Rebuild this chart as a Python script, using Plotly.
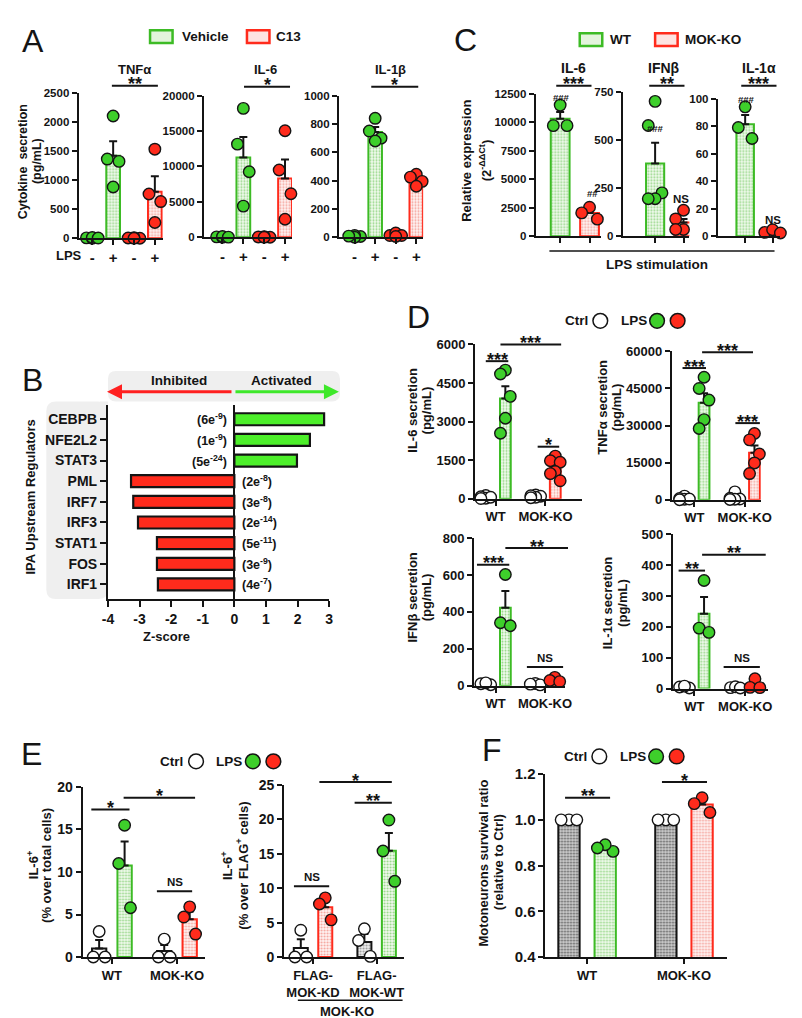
import numpy as np
import plotly.graph_objects as go

W, H = 802, 1018
FONT = 'Liberation Sans, Arial, sans-serif'
INK = '#141414'
GREEN = '#3ecf2b'
RED = '#ff2b1c'
LIME = '#4def2a'

# ---------------- data ----------------
# A: cytokine secretion (pg/mL), Vehicle vs C13, without / with LPS
a_lps = ['-', '+', '-', '+']
tnf_vehicle_ctrl = [6, 0, 12, 3]
tnf_vehicle_lps = [2100, 1360, 1320, 880]
tnf_c13_ctrl = [0, 10, 4, 0]
tnf_c13_lps = [1530, 760, 630, 270]
il6_vehicle_ctrl = [60, 0, 110, 20]
il6_vehicle_lps = [18200, 13150, 9250, 4400]
il6_c13_ctrl = [0, 90, 40, 0]
il6_c13_lps = [15050, 9500, 6150, 2550]
il1b_vehicle_ctrl = [5, 12, 0, 8]
il1b_vehicle_lps = [840, 750, 700, 680]
il1b_c13_ctrl = [12, 30, 12, 5]
il1b_c13_lps = [445, 425, 395, 360]
a_tnf_ticks = [0, 500, 1000, 1500, 2000, 2500]
a_il6_ticks = [0, 5000, 10000, 15000, 20000]
a_il1b_ticks = [0, 200, 400, 600, 800, 1000]

# C: relative expression (2^-ddCt) after LPS stimulation
c_il6_wt = [11500, 9700, 9700]
c_il6_ko = [2550, 2050, 1500]
c_ifnb_wt = [700, 575, 225, 195, 195]
c_ifnb_ko = [135, 90, 60, 35, 35]
c_il1a_wt = [94, 79, 71]
c_il1a_ko = [2.8, 4.7, 2.4]
c_il6_ticks = [0, 2500, 5000, 7500, 10000, 12500]
c_ifnb_ticks = [0, 250, 500, 750]
c_il1a_ticks = [0, 20, 40, 60, 80, 100]

# B: IPA upstream regulators
ipa_regulators = ['CEBPB', 'NFE2L2', 'STAT3', 'PML', 'IRF7', 'IRF3', 'STAT1', 'FOS', 'IRF1']
ipa_zscore = [2.84, 2.39, 1.98, -3.27, -3.20, -3.05, -2.45, -2.45, -2.42]
ipa_p_base = [6, 1, 5, 2, 3, 2, 5, 3, 4]
ipa_p_exp = [-9, -9, -24, -8, -8, -14, -11, -9, -7]
z_ticks = [-4, -3, -2, -1, 0, 1, 2, 3]

# D: secretion (pg/mL), Ctrl / LPS in WT and MOK-KO
genotypes = ['WT', 'MOK-KO']
d_il6_wt_ctrl = [130, 80, 20, 60, 10]
d_il6_wt_lps = [5000, 4850, 3980, 3130, 2550]
d_il6_ko_ctrl = [150, 100, 60, 120, 40]
d_il6_ko_lps = [1660, 1480, 1420, 1060, 980, 700]
d_tnf_wt_ctrl = [1500, 500, 200, 300, 0]
d_tnf_wt_lps = [49500, 45000, 40300, 32400, 28800]
d_tnf_ko_ctrl = [3200, 600, 300, 200, 100]
d_tnf_ko_lps = [26800, 24200, 18500, 14900, 10600]
d_ifnb_wt_ctrl = [10, 5, 15]
d_ifnb_wt_lps = [603, 341, 325]
d_ifnb_ko_ctrl = [12, 4, 8]
d_ifnb_ko_lps = [45, 28, 22]
d_il1a_wt_ctrl = [5, 2, 8]
d_il1a_wt_lps = [350, 196, 182]
d_il1a_ko_ctrl = [3, 6, 2]
d_il1a_ko_lps = [32, 4, 3]
d_il6_ticks = [0, 1500, 3000, 4500, 6000]
d_tnf_ticks = [0, 15000, 30000, 45000, 60000]
d_ifnb_ticks = [0, 200, 400, 600, 800]
d_il1a_ticks = [0, 100, 200, 300, 400, 500]

# E: IL-6+ cells (%)
e_wt_ctrl = [3.0, 0.0, 0.0]
e_wt_lps = [15.5, 11.0, 5.8]
e_ko_ctrl = [2.1, 0.0, 0.0]
e_ko_lps = [5.9, 4.7, 2.7]
flag_groups = ['FLAG-<br>MOK-KD', 'FLAG-<br>MOK-WT']
e_kd_ctrl = [3.9, 0.0, 0.0]
e_kd_lps = [8.6, 7.7, 5.4]
e_flagwt_ctrl = [4.1, 2.4, 0.1]
e_flagwt_lps = [19.9, 15.4, 11.0]
e_total_ticks = [0, 5, 10, 15, 20]
e_flag_ticks = [0, 5, 10, 15, 20, 25]

# F: motoneuron survival ratio (relative to Ctrl)
f_wt_ctrl = [1.0, 1.0, 1.0]
f_wt_lps = [0.862, 0.891, 0.877]
f_ko_ctrl = [1.0, 1.0, 1.0]
f_ko_lps = [1.097, 1.032, 1.071]
f_ticks = [0.4, 0.6, 0.8, 1.0, 1.2]

# ---------------- helpers ----------------
fig = go.Figure()
LAY, ANN, SHP = {}, [], []
ZIGZAG = [0, -1, 1, 0, -1, 1]


def fx(x):
    return x / W


def fy(y):
    return 1 - y / H


def axes(n, l, r, t, b, xr, yr, yticks, fmt='d', ysize=12, xticks=None, xlabels=None, xsize=13):
    key = '' if n == 1 else str(n)
    common = dict(showline=True, linecolor=INK, linewidth=2, ticks='outside', tickcolor=INK,
                  tickwidth=2, ticklen=5, showgrid=False, zeroline=False, fixedrange=True)
    LAY['xaxis' + key] = dict(domain=[fx(l), fx(r)], range=xr, anchor='y' + key,
                              tickmode='array', tickvals=xticks or [], ticktext=xlabels,
                              tickfont=dict(family=FONT, size=xsize, color=INK, weight=700), **common)
    LAY['yaxis' + key] = dict(domain=[fy(b), fy(t)], range=yr, anchor='x' + key,
                              tickmode='array', tickvals=yticks, tickformat=fmt,
                              tickfont=dict(family=FONT, size=ysize, color=INK, weight=700), **common)
    return 'x' + key, 'y' + key


def patt(bg, fg, line):
    return dict(color=bg, line=dict(color=line, width=2),
                pattern=dict(shape='.', bgcolor=bg, fgcolor=fg, size=3, solidity=0.35, fillmode='replace'))


GREEN_BAR = patt('#f3fbf0', '#93d684', '#3dbb25')
RED_BAR = patt('#fff4f3', '#f5a199', RED)
GRAY_BAR = patt('#d0d0d0', '#5a5a5a', INK)
LGRAY_BAR = patt('#eeeeee', '#9a9a9a', INK)
WHITE_BAR = dict(color='white', line=dict(color=INK, width=2))


def group(ax, pos, pts, bar, dot, width, jit):
    pts = np.asarray(pts, float)
    mean = pts.mean()
    se = pts.std(ddof=1) / np.sqrt(len(pts))
    fig.add_trace(go.Bar(x=[pos], y=[mean], width=width, marker=bar, xaxis=ax[0], yaxis=ax[1],
                         error_y=dict(type='data', symmetric=False, array=[se], arrayminus=[0],
                                      color=INK, thickness=2, width=4)))
    # spread the dots GraphPad-style: highest in the middle, the others alternating sides
    order = np.argsort(-pts, kind='stable')
    off = np.zeros(len(pts))
    for k, idx in enumerate(order):
        off[idx] = ZIGZAG[k % len(ZIGZAG)] * jit
    fig.add_trace(go.Scatter(x=pos + off, y=pts, mode='markers', cliponaxis=False,
                             xaxis=ax[0], yaxis=ax[1],
                             marker=dict(size=11.5, color=dot, line=dict(color=INK, width=1.4))))


def text(x, y, s, size=13, angle=0, bold=True, anchor='center'):
    ANN.append(dict(x=fx(x), y=fy(y), xref='paper', yref='paper', text=s, showarrow=False,
                    textangle=angle, xanchor=anchor, yanchor='middle',
                    font=dict(family=FONT, size=size, color=INK, weight=700 if bold else 400)))


def hline(x0, x1, y, w=2):
    SHP.append(dict(type='line', xref='paper', yref='paper', x0=fx(x0), x1=fx(x1),
                    y0=fy(y), y1=fy(y), line=dict(color=INK, width=w)))


def sig(x0, x1, y, s):
    hline(x0, x1, y)
    if s == 'NS':
        text((x0 + x1) / 2, y - 9, s, 11.5)
    else:
        text((x0 + x1) / 2, y - 1.5, s, 18)


def box_key(x, y, fill, line):
    SHP.append(dict(type='rect', xref='paper', yref='paper', x0=fx(x), x1=fx(x + 23),
                    y0=fy(y + 6.5), y1=fy(y - 6.5), fillcolor=fill, line=dict(color=line, width=2.5)))


def dot_key(x, y, fill):
    SHP.append(dict(type='circle', xref='paper', yref='paper', x0=fx(x - 7.5), x1=fx(x + 7.5),
                    y0=fy(y + 7.5), y1=fy(y - 7.5), fillcolor=fill, line=dict(color=INK, width=1.5)))


def dots_legend(x, y):
    text(x - 11, y, 'Ctrl', 13.5, anchor='right')
    dot_key(x, y, 'white')
    text(x + 34, y, 'LPS', 13.5)
    dot_key(x + 58, y, GREEN)
    dot_key(x + 79, y, RED)


# ---------------- panel A ----------------
text(19, 24, 'A', 32, bold=False)
box_key(139, 20, '#e3f4dc', '#3dbb25')
text(170, 20, 'Vehicle', 13.5, anchor='left')
box_key(238, 20, '#fde4e2', RED)
text(266, 20, 'C13', 13.5, anchor='left')

a_sets = [
    (1, 66, 152, 77, 225, 80, 21.3, a_tnf_ticks, 'TNFα', 123,
     [tnf_vehicle_ctrl, tnf_vehicle_lps, tnf_c13_ctrl, tnf_c13_lps]),
    (2, 194, 284, 80, 224, 213, 21.3, a_il6_ticks, 'IL-6', 257,
     [il6_vehicle_ctrl, il6_vehicle_lps, il6_c13_ctrl, il6_c13_lps]),
    (3, 332, 418, 80, 224, 348, 21.0, a_il1b_ticks, 'IL-1β', 385,
     [il1b_vehicle_ctrl, il1b_vehicle_lps, il1b_c13_ctrl, il1b_c13_lps]),
]
for n, l, r, t, b, c0, dc, yt, title, tx, series in a_sets:
    ax = axes(n, l, r, t, b, [(l - c0) / dc, (r - c0) / dc], [0, yt[-1]], yt, ysize=11.5,
              xticks=[0, 1, 2, 3], xlabels=a_lps, xsize=15)
    for i, pts in enumerate(series):
        bar, dot = (GREEN_BAR, GREEN) if i < 2 else (RED_BAR, RED)
        group(ax, i, pts, bar, dot, 0.66, 6 / dc)
    text(tx, 53, title, 13)
sig(100, 147, 70, '**')
sig(235, 282, 71, '*')
sig(365, 413, 71, '*')
text(56, 243, 'LPS', 13)
text(9, 147, 'Cytokine  secretion', 12.5, angle=-90)
text(23, 147, '(pg/mL)', 12.5, angle=-90)

# ---------------- panel C ----------------
text(461, 23, 'C', 32, bold=False)
box_key(578, 23, '#e3f4dc', '#3dbb25')
text(607, 23, 'WT', 13.5, anchor='left')
box_key(655, 23, '#fde4e2', RED)
text(683, 23, 'MOK-KO', 13.5, anchor='left')

c_sets = [
    (4, 533, 600, 78, 223, 558, 30, c_il6_ticks, 'IL-6', 572, c_il6_wt, c_il6_ko),
    (5, 622, 690, 76, 223, 655, 29, c_ifnb_ticks, 'IFNβ', 664, c_ifnb_wt, c_ifnb_ko),
    (6, 719, 783, 83, 223, 747, 28, c_il1a_ticks, 'IL-1α', 761, c_il1a_wt, c_il1a_ko),
]
for n, l, r, t, b, c0, dc, yt, title, tx, wt, ko in c_sets:
    ax = axes(n, l, r, t, b, [(l - c0) / dc, (r - c0) / dc], [0, yt[-1]], yt, ysize=11.5,
              xticks=[0, 1], xlabels=['', ''])
    group(ax, 0, wt, GREEN_BAR, GREEN, 0.64, 7 / dc)
    group(ax, 1, ko, RED_BAR, RED, 0.64, 8 / dc)
    text(tx, 52, title, 14)
sig(554, 590, 70, '***')
sig(649, 685, 70, '**')
sig(743, 779, 70, '***')
text(559, 82, '###', 9.5)
text(591, 179, '##', 9.5)
text(655, 113, '###', 9.5)
text(681, 185, 'NS', 11.5)
text(748, 84, '###', 9.5)
text(775, 206, 'NS', 11.5)
text(462, 146, 'Relative expression', 13, angle=-90)
text(481, 146, '(2<sup>-ΔΔCt</sup>)', 13, angle=-90)
hline(547, 777, 238, 1.5)
text(657, 252, 'LPS stimulation', 13.5)

# ---------------- panel B ----------------
text(19, 369, 'B', 32, bold=False)


def rrect(x0, y0, x1, y1, r):
    p = (f'M{fx(x0 + r)},{fy(y0)} L{fx(x1 - r)},{fy(y0)} Q{fx(x1)},{fy(y0)} {fx(x1)},{fy(y0 + r)} '
         f'L{fx(x1)},{fy(y1 - r)} Q{fx(x1)},{fy(y1)} {fx(x1 - r)},{fy(y1)} '
         f'L{fx(x0 + r)},{fy(y1)} Q{fx(x0)},{fy(y1)} {fx(x0)},{fy(y1 - r)} '
         f'L{fx(x0)},{fy(y0 + r)} Q{fx(x0)},{fy(y0)} {fx(x0 + r)},{fy(y0)} Z')
    SHP.append(dict(type='path', xref='paper', yref='paper', path=p, fillcolor='#efefef',
                    line=dict(width=0), layer='below'))


rrect(96, 360, 333, 391, 8)
rrect(33, 391, 96, 592, 10)
SHP.append(dict(type='rect', xref='paper', yref='paper', x0=fx(88), x1=fx(96), y0=fy(391), y1=fy(400),
                fillcolor='#efefef', line=dict(width=0), layer='below'))

axB = axes(7, 96, 322, 395, 592, [-4, 3], [8.71, -0.67], list(range(9)), ysize=14,
           xticks=z_ticks, xlabels=[str(v) for v in z_ticks], xsize=14)
LAY['yaxis7']['ticktext'] = ipa_regulators
LAY['yaxis7']['ticklen'] = 6
LAY['xaxis7'].update(zeroline=True, zerolinecolor=INK, zerolinewidth=2, ticklen=6)
fig.add_trace(go.Bar(y=list(range(9)), x=ipa_zscore, orientation='h', width=0.58,
                     marker=dict(color=[LIME if z > 0 else RED for z in ipa_zscore],
                                 line=dict(color=INK, width=2.2)),
                     xaxis=axB[0], yaxis=axB[1]))
for i, (z, m, e) in enumerate(zip(ipa_zscore, ipa_p_base, ipa_p_exp)):
    ANN.append(dict(x=-0.17 if z > 0 else 0.17, y=i, xref='x7', yref='y7',
                    text=f'({m}e<sup>{e}</sup>)', showarrow=False,
                    xanchor='right' if z > 0 else 'left', yanchor='middle',
                    font=dict(family=FONT, size=12.5, color=INK, weight=700)))
text(169, 370, 'Inhibited', 13.5)
text(273, 370, 'Activated', 13.5)
ANN.append(dict(x=fx(95), y=fy(381), xref='paper', yref='paper', text='', showarrow=True,
                ax=126, ay=0, arrowhead=2, arrowsize=1, arrowwidth=3, arrowcolor='#ff2020', standoff=0))
ANN.append(dict(x=fx(332), y=fy(381), xref='paper', yref='paper', text='', showarrow=True,
                ax=-105, ay=0, arrowhead=2, arrowsize=1, arrowwidth=3, arrowcolor='#3ee82a', standoff=0))
text(17, 488, 'IPA Upstream Regulators', 13, angle=-90)
text(156, 630, 'Z-score', 13)

# ---------------- panel D ----------------
text(413, 305, 'D', 32, bold=False)
dots_legend(599, 309)

d_sets = [
    (8, 471, 580, 333, 490, 492, 51, d_il6_ticks,
     [d_il6_wt_ctrl, d_il6_wt_lps, d_il6_ko_ctrl, d_il6_ko_lps]),
    (9, 672, 763, 340, 491, 695, 51.5, d_tnf_ticks,
     [d_tnf_wt_ctrl, d_tnf_wt_lps, d_tnf_ko_ctrl, d_tnf_ko_lps]),
    (10, 470, 563, 530, 680, 492, 50.5, d_ifnb_ticks,
     [d_ifnb_wt_ctrl, d_ifnb_wt_lps, d_ifnb_ko_ctrl, d_ifnb_ko_lps]),
    (11, 673, 770, 526, 683, 695, 52, d_il1a_ticks,
     [d_il1a_wt_ctrl, d_il1a_wt_lps, d_il1a_ko_ctrl, d_il1a_ko_lps]),
]
for n, l, r, t, b, c0, dc, yt, series in d_sets:
    ax = axes(n, l, r, t, b, [(l - c0) / dc, (r - c0) / dc], [0, yt[-1]], yt, ysize=13,
              xticks=[0, 1], xlabels=genotypes, xsize=13)
    off = 10 / dc
    styles = [(WHITE_BAR, 'white'), (GREEN_BAR, GREEN), (WHITE_BAR, 'white'), (RED_BAR, RED)]
    for i, pts in enumerate(series):
        pos = i // 2 + (off if i % 2 else -off)
        group(ax, pos, pts, styles[i][0], styles[i][1], 11 / dc, 5 / dc)

for args in [(482, 505, 350, '***'), (497, 559, 333, '***'), (535, 557, 437, '*'),
             (683, 707, 357, '***'), (703, 755, 341, '***'), (737, 762, 413, '***'),
             (473, 506, 557, '***'), (502, 566, 540, '**'), (524, 561, 661, 'NS'),
             (679, 706, 563, '**'), (703, 768, 547, '**'), (725, 762, 661, 'NS')]:
    sig(*args)
text(407, 400, 'IL-6 secretion', 13, angle=-90)
text(421, 400, '(pg/mL)', 13, angle=-90)
text(601, 397, 'TNFα secretion', 13, angle=-90)
text(615, 397, '(pg/mL)', 13, angle=-90)
text(407, 590, 'IFNβ secretion', 13, angle=-90)
text(421, 590, '(pg/mL)', 13, angle=-90)
text(606, 596, 'IL-1α secretion', 13, angle=-90)
text(621, 596, '(pg/mL)', 13, angle=-90)

# ---------------- panel E ----------------
text(18, 750, 'E', 32, bold=False)
dots_legend(186, 757)

axE1 = axes(12, 70, 195, 783, 956, [(70 - 100) / 66.5, (195 - 100) / 66.5], [0, 20], e_total_ticks,
            ysize=14, xticks=[0, 1], xlabels=genotypes, xsize=13)
o = 13 / 66.5
group(axE1, -o, e_wt_ctrl, WHITE_BAR, 'white', 0.22, 6 / 66.5)
group(axE1, o, e_wt_lps, GREEN_BAR, GREEN, 0.22, 6 / 66.5)
group(axE1, 1 - o, e_ko_ctrl, WHITE_BAR, 'white', 0.22, 6 / 66.5)
group(axE1, 1 + o, e_ko_lps, RED_BAR, RED, 0.22, 6 / 66.5)

axE2 = axes(13, 276, 398, 781, 956, [(276 - 305.5) / 65, (398 - 305.5) / 65], [0, 25], e_flag_ticks,
            ysize=14, xticks=[0, 1], xlabels=flag_groups, xsize=13)
o = 12.5 / 65
group(axE2, -o, e_kd_ctrl, WHITE_BAR, 'white', 0.22, 6 / 65)
group(axE2, o, e_kd_lps, RED_BAR, RED, 0.22, 6 / 65)
group(axE2, 1 - o, e_flagwt_ctrl, LGRAY_BAR, 'white', 0.22, 6 / 65)
group(axE2, 1 + o, e_flagwt_lps, GREEN_BAR, GREEN, 0.22, 6 / 65)

for args in [(79, 118, 806, '*'), (112, 185, 794, '*'), (146, 182, 889, 'NS'),
             (286, 322, 884, 'NS'), (348, 386, 799, '**'), (312, 386, 778, '*')]:
    sig(*args)
text(19, 863, 'IL-6<sup>+</sup>', 13, angle=-90)
text(33, 863, '(% over total cells)', 13, angle=-90)
text(217, 863, 'IL-6<sup>+</sup>', 13, angle=-90)
text(233, 863, '(% over FLAG<sup>+</sup> cells)', 13, angle=-90)
hline(290, 397, 1000, 1.5)
text(340, 1011, 'MOK-KO', 13)

# ---------------- panel F ----------------
text(488, 745, 'F', 32, bold=False)
dots_legend(598, 752)

axF = axes(14, 543, 728, 770, 956, [(543 - 585.5) / 99, (728 - 585.5) / 99], [0.4, 1.2], f_ticks,
           fmt='.1f', ysize=15, xticks=[0, 1], xlabels=genotypes, xsize=13)
o = 18.5 / 99
group(axF, -o, f_wt_ctrl, GRAY_BAR, 'white', 0.22, 8 / 99)
group(axF, o, f_wt_lps, GREEN_BAR, GREEN, 0.22, 8 / 99)
group(axF, 1 - o, f_ko_ctrl, GRAY_BAR, 'white', 0.22, 8 / 99)
group(axF, 1 + o, f_ko_lps, RED_BAR, RED, 0.22, 8 / 99)
sig(563, 609, 794, '**')
sig(662, 708, 778, '*')
text(480, 860, 'Motoneurons survival ratio', 13, angle=-90)
text(495, 860, '(relative to Ctrl)', 13, angle=-90)

fig.update_layout(width=W, height=H, margin=dict(l=0, r=0, t=0, b=0),
                  paper_bgcolor='white', plot_bgcolor='rgba(0,0,0,0)',
                  showlegend=False, barmode='overlay',
                  font=dict(family=FONT, color=INK),
                  annotations=ANN, shapes=SHP, **LAY)
fig.write_html('out.html')
